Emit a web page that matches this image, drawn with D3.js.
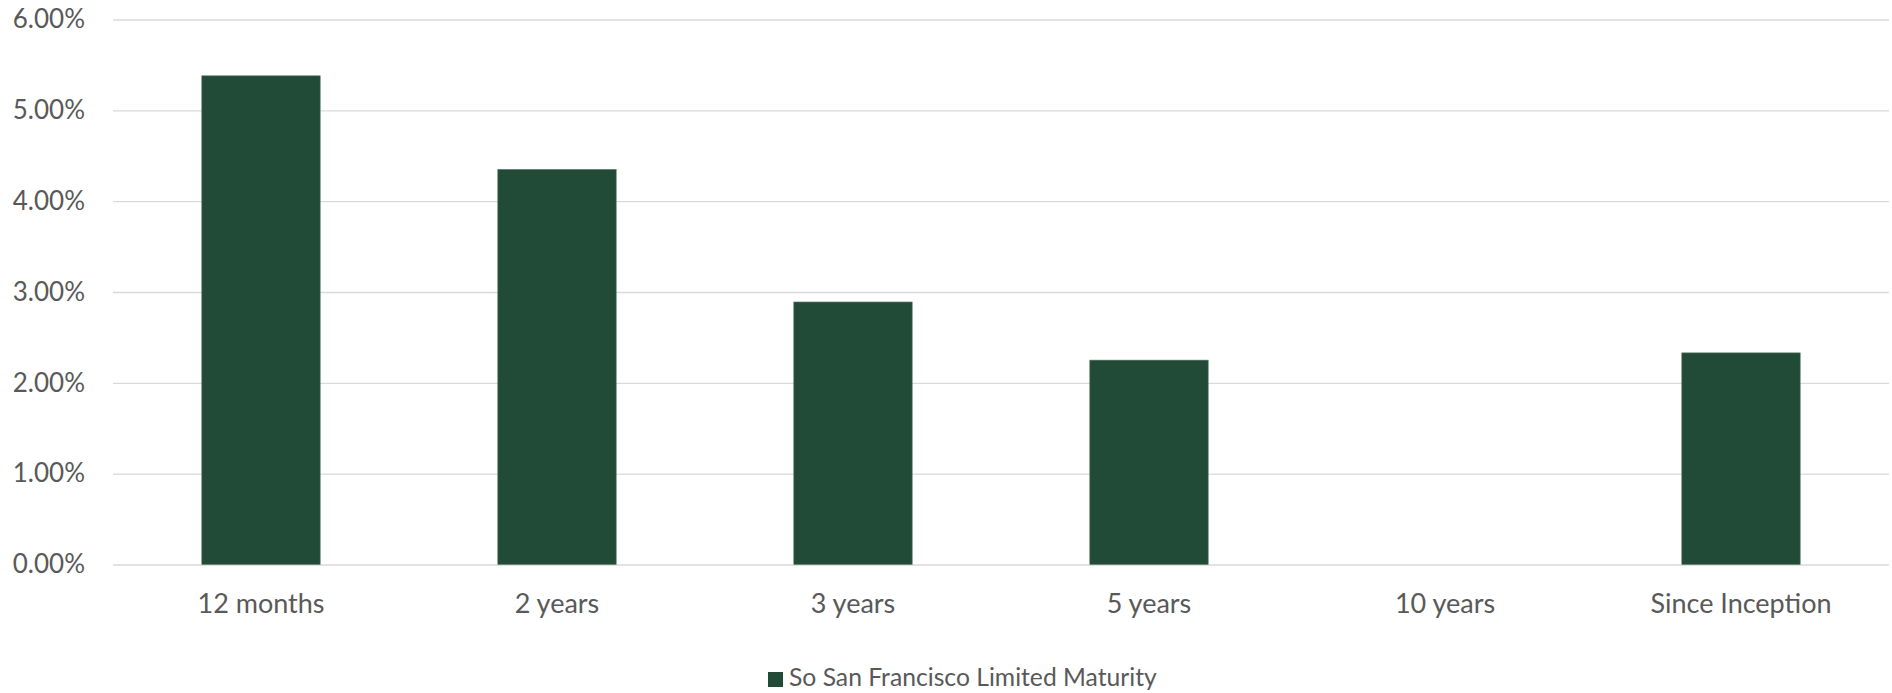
<!DOCTYPE html>
<html>
<head>
<meta charset="utf-8">
<script src="https://cdn.jsdelivr.net/npm/d3@7"></script>
<style>
  html, body { margin: 0; padding: 0; background: #fff; }
  svg { display: block; font-family: Lato, "Open Sans", sans-serif; }
</style>
</head>
<body>
<svg id="chart" width="1892" height="693"></svg>
<script>
// Annualized returns by period (percent); 10 years has no data yet
const categories = ["12 months", "2 years", "3 years", "5 years", "10 years", "Since Inception"];
const returns = [5.38, 4.35, 2.89, 2.25, null, 2.33];
const seriesName = "So San Francisco Limited Maturity";
const yTicks = [0, 1, 2, 3, 4, 5, 6];

const barColor = "#224b37";
const gridColor = "#d9d9d9";
const textColor = "#595959";

const svg = d3.select("#chart");
const margin = { top: 19.5, left: 113, right: 3, bottom: 128.5 };
const width = 1892, height = 693;

const x = d3.scaleBand()
  .domain(categories)
  .range([margin.left, width - margin.right])
  .paddingInner(0.6)
  .paddingOuter(0.3);

const y = d3.scaleLinear()
  .domain([0, 6])
  .range([height - margin.bottom, margin.top]);

// Horizontal gridlines with percent labels
const yAxis = d3.axisLeft(y)
  .tickValues(yTicks)
  .tickFormat(d => d.toFixed(2) + "%")
  .tickSize(-(width - margin.left - margin.right))
  .tickPadding(28);

const gy = svg.append("g")
  .attr("transform", `translate(${margin.left},0)`)
  .call(yAxis);
gy.select(".domain").remove();
gy.selectAll(".tick line").attr("stroke", gridColor).attr("stroke-width", 1.4);
gy.selectAll(".tick text")
  .attr("fill", textColor)
  .attr("font-size", 26)
  .attr("font-family", "Lato, 'Open Sans', sans-serif");

// Bars
const data = categories.map((c, i) => ({ cat: c, v: returns[i] }));
svg.append("g")
  .selectAll("rect")
  .data(data.filter(d => d.v != null))
  .join("rect")
  .attr("x", d => x(d.cat))
  .attr("width", x.bandwidth())
  .attr("y", d => y(d.v))
  .attr("height", d => y(0) - y(d.v))
  .attr("fill", barColor)
  .attr("stroke", "#5a7a6a")
  .attr("stroke-width", 0.6);

// Category labels
const xAxis = d3.axisBottom(x).tickSize(0).tickPadding(29);
const gx = svg.append("g")
  .attr("transform", `translate(0,${y(0)})`)
  .call(xAxis);
gx.select(".domain").remove();
gx.selectAll(".tick text")
  .attr("fill", textColor)
  .attr("font-size", 27)
  .attr("font-family", "Lato, 'Open Sans', sans-serif");

// Legend
const legend = svg.append("g").attr("transform", "translate(768,672)");
legend.append("rect")
  .attr("width", 15).attr("height", 15)
  .attr("fill", barColor);
legend.append("text")
  .attr("x", 21).attr("y", 14)
  .attr("fill", textColor)
  .attr("font-size", 24.7)
  .text(seriesName);
</script>
</body>
</html>
